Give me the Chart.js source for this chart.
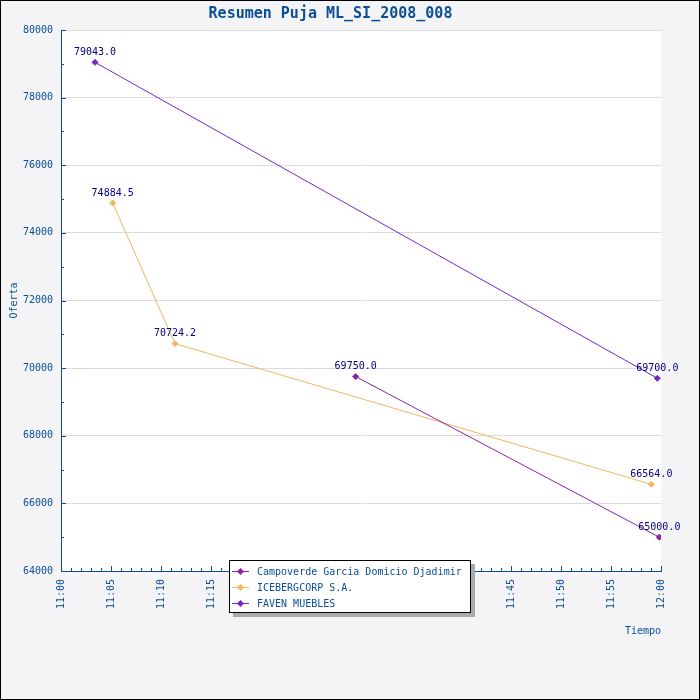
<!DOCTYPE html>
<html>
<head>
<meta charset="utf-8">
<title>Resumen Puja ML_SI_2008_008</title>
<script src="https://cdn.jsdelivr.net/npm/chart.js@4.4.1/dist/chart.umd.min.js"></script>
<style>
body{margin:0;background:#fff}
#caja{position:relative;width:700px;height:700px}
#leyenda{position:absolute;left:229px;top:560px;width:240px;height:49px;padding-top:2px;background:#fff;border:1px solid #000;box-shadow:4px 4px 0 #aaa;font:10px "DejaVu Sans Mono",monospace;color:#0a4f96}
.fila{height:16px;display:flex;align-items:center;white-space:nowrap}
.marca{position:relative;width:17px;height:1px;margin:0 8px 0 2px}
.marca i{position:absolute;left:6px;top:-2px;width:5px;height:5px;transform:rotate(45deg)}
</style>
</head>
<body>
<div id="caja">
  <canvas id="grafico" width="700" height="700"></canvas>
  <div id="leyenda"></div>
</div>
<script>
// ---- DATOS DE LA PUJA ----
let oferentes = ['Campoverde Garcia Domicio Djadimir', 'ICEBERGCORP S.A.', 'FAVEN MUEBLES']
let colores = ['#8a24a8', '#f0b860', '#7328c6']

let horasCampoverde = ['11:29:28', '11:59:50']
let ofertasCampoverde = [69750.0, 65000.0]

let horasIceberg = ['11:05:10', '11:11:24', '11:59:02']
let ofertasIceberg = [74884.5, 70724.2, 66564.0]

let horasFaven = ['11:03:24', '11:59:38']
let ofertasFaven = [79043.0, 69700.0]

let ofertaMin = 64000
let ofertaMax = 80000

const AZUL = '#0a4f96'

// ---- PASAR "hh:mm:ss" A MINUTOS DESDE LAS 11:00 ----
function minutos(hora){
    const [h, m, s] = hora.split(':').map(Number)
    return (h - 11) * 60 + m + s / 60
}

function puntos(horas, ofertas){
    return horas.map((hora, i) => ({x: minutos(hora), y: ofertas[i]}))
}

let series = [
    puntos(horasCampoverde, ofertasCampoverde),
    puntos(horasIceberg, ofertasIceberg),
    puntos(horasFaven, ofertasFaven)
]

// ---- FONDO, MARCO Y ÁREA BLANCA ----
const fondo = {
    id: 'fondo',
    beforeDraw(chart){
        const {ctx, chartArea: a} = chart
        ctx.save()
        ctx.fillStyle = '#f4f4f6'
        ctx.fillRect(0, 0, chart.width, chart.height)
        ctx.fillStyle = '#fff'
        ctx.fillRect(a.left, a.top, a.right - a.left, a.bottom - a.top)
        ctx.strokeStyle = '#000'
        ctx.lineWidth = 1
        ctx.strokeRect(0.5, 0.5, chart.width - 1, chart.height - 1)
        ctx.restore()
    }
}

// ---- MARCAS HACIA ADENTRO (CADA MINUTO Y CADA 1000) ----
const marcas = {
    id: 'marcas',
    afterDraw(chart){
        const {ctx, scales: {x, y}} = chart
        ctx.save()
        ctx.strokeStyle = AZUL
        ctx.lineWidth = 1
        ctx.beginPath()
        for (let m = x.min; m <= x.max; m++){
            const px = Math.round(x.getPixelForValue(m)) + 0.5
            const largo = m % 5 === 0 ? 5 : 3
            ctx.moveTo(px, y.bottom)
            ctx.lineTo(px, y.bottom - largo)
        }
        for (let v = y.min; v <= y.max; v += 1000){
            const py = Math.round(y.getPixelForValue(v)) + 0.5
            const largo = v % 2000 === 0 ? 5 : 3
            ctx.moveTo(x.left, py)
            ctx.lineTo(x.left + largo, py)
        }
        ctx.stroke()
        ctx.restore()
    }
}

// ---- VALOR ENCIMA DE CADA PUNTO ----
const etiquetas = {
    id: 'etiquetas',
    afterDatasetsDraw(chart){
        const ctx = chart.ctx
        ctx.save()
        ctx.font = '10px "DejaVu Sans Mono"'
        ctx.fillStyle = '#000080'
        ctx.textAlign = 'center'
        ctx.textBaseline = 'middle'
        chart.data.datasets.forEach((ds, i) => {
            chart.getDatasetMeta(i).data.forEach((p, j) => {
                ctx.fillText(ds.data[j].y.toFixed(1), p.x, p.y - 10)
            })
        })
        ctx.restore()
    }
}

Chart.defaults.font.family = '"DejaVu Sans Mono", monospace'
Chart.defaults.font.size = 10
Chart.defaults.color = AZUL

const config = {
    type: 'line',
    data: {
        datasets: oferentes.map((nombre, i) => ({
            label: nombre,
            data: series[i],
            borderColor: colores[i],
            backgroundColor: colores[i],
            borderWidth: 1,
            pointStyle: 'rectRot',
            pointRadius: 3,
            pointBorderWidth: 1,
            tension: 0
        }))
    },
    options: {
        responsive: false,
        animation: false,
        devicePixelRatio: 1,
        layout: {padding: {right: 39}},
        plugins: {
            legend: {display: false},
            tooltip: {enabled: false},
            title: {
                display: true,
                text: 'Resumen Puja ML_SI_2008_008',
                color: AZUL,
                font: {size: 15, weight: 'bold'},
                padding: {top: 5, bottom: 7}
            }
        },
        scales: {
            x: {
                type: 'linear',
                min: 0,
                max: 60,
                afterFit(s){ s.height = 129 },
                grid: {display: false, drawTicks: false},
                border: {color: AZUL, width: 1},
                ticks: {
                    stepSize: 5,
                    autoSkip: false,
                    minRotation: 90,
                    maxRotation: 90,
                    padding: 8,
                    color: AZUL,
                    callback: (v) => (v >= 60 ? '12:00' : '11:' + String(v).padStart(2, '0'))
                },
                title: {display: true, text: 'Tiempo', align: 'end', color: AZUL, padding: {top: 0, bottom: 63}}
            },
            y: {
                min: ofertaMin,
                max: ofertaMax,
                afterFit(s){ s.width = 61 },
                grid: {color: '#dcdcdc', drawTicks: false},
                border: {color: AZUL, width: 1},
                ticks: {stepSize: 2000, padding: 8, color: AZUL, callback: (v) => String(v)},
                title: {display: true, text: 'Oferta', color: AZUL, padding: {top: 8, bottom: 0}}
            }
        }
    },
    plugins: [fondo, marcas, etiquetas]
}

let grafico = new Chart(document.querySelector('#grafico'), config)

// ---- LEYENDA EN HTML, ENCIMA DEL GRÁFICO ----
let html = ''
grafico.data.datasets.forEach((ds) => {
    html += `<div class="fila"><span class="marca" style="background:${ds.borderColor}"><i style="background:${ds.borderColor}"></i></span>${ds.label}</div>`
})
document.querySelector('#leyenda').innerHTML = html
</script>
</body>
</html>
